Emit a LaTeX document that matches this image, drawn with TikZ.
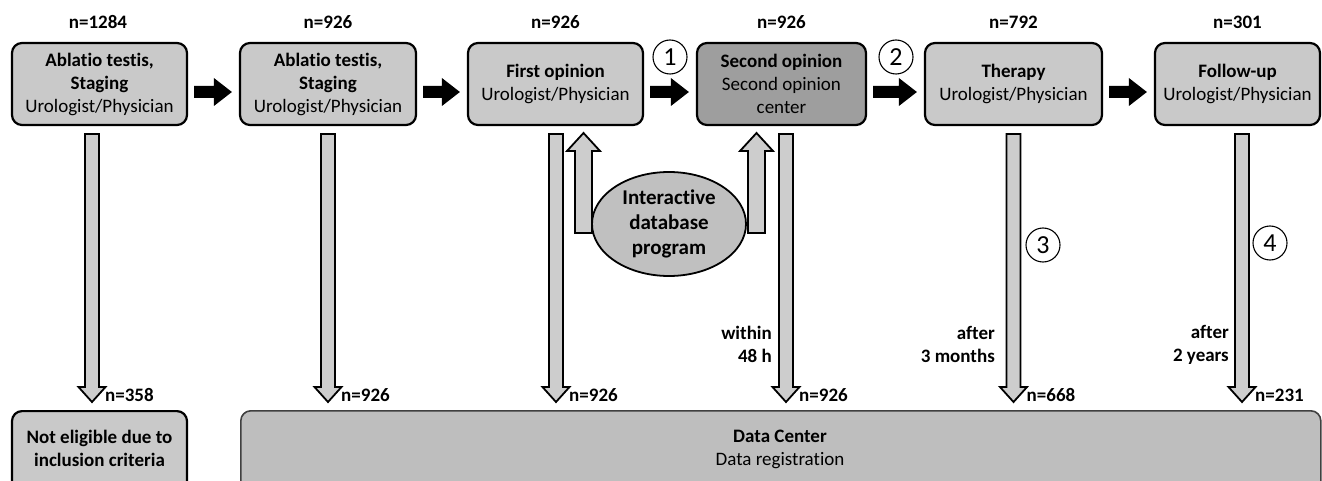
\documentclass[tikz,border=0pt]{standalone}
\usepackage{fontspec}
\setmainfont{Carlito}[Ligatures={NoCommon}]
\usetikzlibrary{shapes.geometric,calc}
\definecolor{boxfill}{RGB}{201,201,201}
\definecolor{darkfill}{RGB}{158,158,158}
\definecolor{ellfill}{RGB}{192,192,192}
\definecolor{dcfill}{RGB}{190,190,190}
\definecolor{arrfill}{RGB}{205,205,205}
\tikzset{
  box/.style={draw=black, line width=2.2pt, fill=boxfill, rounded corners=10pt, align=center, inner sep=2pt,
    font=\fontsize{19}{23}\selectfont},
  txt/.style={align=center, inner sep=0pt, font=\fontsize{19}{23}\selectfont},
  nlab/.style={inner sep=0pt, font=\bfseries\fontsize{19}{23}\selectfont},
  side/.style={align=right, inner sep=0pt, anchor=east, font=\bfseries\fontsize{19}{23}\selectfont},
  hollow/.style={draw=black, line width=1.8pt, fill=arrfill, line join=miter},
  circnum/.style={circle, draw=black, line width=1.1pt, minimum size=34pt, inner sep=0pt,
    font=\fontsize{26}{26}\selectfont},
}
\newcommand{\blkarrow}[2]{%
  \fill[black] ($(#1)+(0,-6)$) -- ($(#2)+(-18,-6)$) -- ($(#2)+(-18,-14)$) -- (#2) -- ($(#2)+(-18,14)$) -- ($(#2)+(-18,6)$) -- ($(#1)+(0,6)$) -- cycle;}
\newcommand{\hdown}[1]{%
  \draw[hollow] ($(#1)+(-7,0)$) -- ($(#1)+(7,0)$) -- ($(#1)+(7,253)$) -- ($(#1)+(13.5,253)$) -- ($(#1)+(0,268)$) -- ($(#1)+(-13.5,253)$) -- ($(#1)+(-7,253)$) -- cycle;}
\newcommand{\hup}[1]{%
  \draw[hollow] ($(#1)+(-8.5,0)$) -- ($(#1)+(-8.5,-82)$) -- ($(#1)+(-16.5,-82)$) -- ($(#1)+(0,-100)$) -- ($(#1)+(16.5,-82)$) -- ($(#1)+(8.5,-82)$) -- ($(#1)+(8.5,0)$) -- cycle;}
\begin{document}
\begin{tikzpicture}[x=1pt,y=-1pt]
\clip (0,0) rectangle (1322,481);
\fill[white] (0,0) rectangle (1322,481);

% top boxes
\node[box, minimum width=175pt, minimum height=82pt] (b1) at (99.5,84) {\textbf{Ablatio testis,}\\\textbf{Staging}\\Urologist/Physician};
\node[box, minimum width=176pt, minimum height=82pt] (b2) at (328,84) {\textbf{Ablatio testis,}\\\textbf{Staging}\\Urologist/Physician};
\node[box, minimum width=175pt, minimum height=82pt] (b3) at (555.5,84) {\textbf{First opinion}\\Urologist/Physician};
\node[box, fill=darkfill, minimum width=169pt, minimum height=82pt] (b4) at (781.5,84) {\textbf{Second opinion}\\Second opinion\\center};
\node[box, minimum width=177pt, minimum height=82pt] (b5) at (1013.5,84) {\textbf{Therapy}\\Urologist/Physician};
\node[box, minimum width=165pt, minimum height=82pt] (b6) at (1237.5,84) {\textbf{Follow-up}\\Urologist/Physician};

% n labels top
\node[nlab] (t1) at (98,22) {n=1284};
\node[nlab] (t2) at (328,22) {n=926};
\node[nlab] (t3) at (555.5,22) {n=926};
\node[nlab] (t4) at (781.5,22) {n=926};
\node[nlab] (t5) at (1013.5,22) {n=792};
\node[nlab] (t6) at (1237.5,22) {n=301};

% black arrows
\foreach \a/\b [count=\i] in {b1/b2,b2/b3,b3/b4,b4/b5,b5/b6}{
  \coordinate (s\i) at ([xshift=6pt,yshift=-8pt]\a.east);
  \coordinate (e\i) at ([xshift=-7pt,yshift=-8pt]\b.west);
  \blkarrow{s\i}{e\i}
}

% circled numbers
\node[circnum] (c1) at (670,57) {1};
\node[circnum] (c2) at (896,57) {2};
\node[circnum] (c3) at (1043,245) {3};
\node[circnum] (c4) at (1270,243) {4};

% bottom boxes
\node[box, minimum width=175pt, minimum height=100pt, anchor=north] (nb) at (99.5,410) {};
\node[txt, font=\bfseries\fontsize{19}{23}\selectfont] (nbt) at (99.5,448) {Not eligible due to\\inclusion criteria};
\node[box, draw=black!75, line width=1.6pt, fill=dcfill, minimum width=1080pt, minimum height=100pt, anchor=north west] (dc) at (240,410) {};
\node[txt] (dct) at (780,449) {\textbf{Data Center}\\Data registration};

% down arrows
\coordinate (d1) at (92,134);
\coordinate (d2) at (328,134);
\coordinate (d3) at (556,134);
\coordinate (d4) at (786,134);
\coordinate (d5) at (1013.5,134);
\coordinate (d6) at (1242,134);
\foreach \i in {1,...,6}{\hdown{d\i}}

% bottom n labels
\node[nlab, anchor=west] (m1) at (105,395) {n=358};
\node[nlab, anchor=west] (m2) at (341,395) {n=926};
\node[nlab, anchor=west] (m3) at (569,395) {n=926};
\node[nlab, anchor=west] (m4) at (799,395) {n=926};
\node[nlab, anchor=west] (m5) at (1026.5,395) {n=668};
\node[nlab, anchor=west] (m6) at (1255,395) {n=231};

% side labels
\node[side] (w1) at (772,344.5) {within\\48 h};
\node[side] (w2) at (995,344.5) {after\\3 months};
\node[side] (w3) at (1229,344.5) {after\\2 years};

% up arrows and ellipse
\coordinate (u1) at (583.5,233);
\coordinate (u2) at (756.5,233);
\hup{u1}
\hup{u2}
\node[ellipse, draw=black, line width=1.8pt, fill=ellfill, minimum width=154pt, minimum height=104pt, inner sep=0pt,
  align=center, font=\bfseries\fontsize{21}{25}\selectfont] (db) at (669,224) {Interactive\\database\\program};
\end{tikzpicture}
\end{document}
